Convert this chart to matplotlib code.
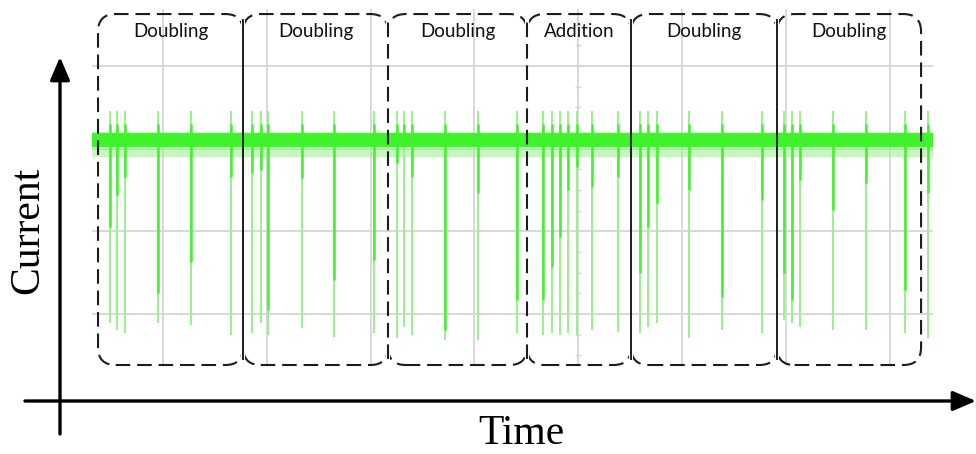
import numpy as np
import matplotlib.pyplot as plt
from matplotlib.patches import FancyBboxPatch, Rectangle

# --- data (scope divisions: time on x, current on y) -------------------------
# spike instants, grouped by the operation window
SPIKE_T = [0.489, 0.560, 0.637, 0.952, 1.273, 1.652,
           1.862, 1.944, 2.014, 2.336, 2.650, 3.036,
           3.251, 3.322, 3.402, 3.717, 4.038, 4.413,
           4.664, 4.745, 4.825, 4.905, 4.986, 5.130, 5.381,
           5.595, 5.675, 5.756, 6.072, 6.388, 6.768,
           6.985, 7.063, 7.137, 7.458, 7.770, 8.148, 8.373]
# bright (dense) part of each downward spike
SPIKE_CORE = [1.05, 1.44, 1.66, 0.25, 0.63, 1.66,
              1.70, 1.74, 0.05, 1.64, 0.41, 0.65,
              1.83, 2.02, 1.66, -0.19, 1.46, 0.17,
              0.17, 0.57, 0.93, 1.50, 1.78, 1.54, 1.66,
              0.50, 1.05, 1.34, 1.50, 0.21, 1.38,
              0.50, 0.17, 1.62, 1.26, 1.58, 0.29, 1.46]
# faint tail, deepest point of each spike
SPIKE_TAIL = [-0.11, -0.19, -0.23, -0.11, -0.13, -0.25,
              -0.23, -0.11, -0.25, -0.17, -0.28, -0.23,
              -0.29, -0.16, -0.25, -0.31, -0.31, -0.23,
              -0.25, -0.23, -0.25, -0.23, -0.25, -0.19, -0.22,
              -0.23, -0.16, -0.11, -0.29, -0.19, -0.23,
              -0.07, -0.11, -0.16, -0.19, -0.19, -0.23, -0.29]
SPIKE_TOP = 2.45
BASELINE = 2.10

# operation windows drawn as dashed boxes
SEG_EDGES = [0.374, 1.771, 3.168, 4.507, 5.509, 6.915, 8.303]
SEG_LABELS = ["Doubling", "Doubling", "Doubling", "Addition", "Doubling", "Doubling"]
SEG_SOLID = [True, False, False, True, True]  # inner borders drawn solid

BRIGHT = "#3ff22c"
FAINT = "#98f28c"
GRID = "#d6d6d6"
INK = "#1c1c1c"
DASH = (0, (7, 3.3))

W, H = 976, 454
fig = plt.figure(figsize=(W / 100, H / 100), dpi=100)
ax = fig.add_axes([92 / W, 88 / H, 841 / W, 357 / H])
ax.set_xlim(0.316, 8.418)
ax.set_ylim(-0.629, 3.688)
ax.axis("off")

# scope graticule
for t in range(1, 9):
    ax.axvline(t, color=GRID, lw=1.3, zorder=0)
for v in range(0, 4):
    ax.axhline(v, color=GRID, lw=1.3, zorder=0)
ticks_v = np.arange(-0.5, 3.75, 0.25)
ax.plot(np.full(len(ticks_v), 5.0), ticks_v, ls="none", marker="_",
        ms=5, mew=1.0, color=GRID, zorder=0)

# trace
ax.vlines(SPIKE_T, SPIKE_TAIL, SPIKE_TOP, color=FAINT, lw=1.4, zorder=2)
ax.fill_between([0.316, 8.418], BASELINE - 0.2, BASELINE + 0.1, color=FAINT,
                alpha=0.55, lw=0, zorder=2)
ax.axhline(BASELINE, color=BRIGHT, lw=10, zorder=3)
ax.vlines(SPIKE_T, SPIKE_CORE, BASELINE + 0.2, color=BRIGHT, lw=1.8, zorder=3)

# operation windows: rounded boxes, shared borders drawn once
top, bottom = 3.627, -0.617
rx, ry = 0.17, 0.17 * 1.26
gap = 0.02
n = len(SEG_LABELS)
for i, label in enumerate(SEG_LABELS):
    t0, t1 = SEG_EDGES[i], SEG_EDGES[i + 1]
    box = FancyBboxPatch(
        (t0, bottom), t1 - t0, top - bottom,
        boxstyle=f"round,pad=0,rounding_size={rx}", mutation_aspect=1.26,
        fill=False, ec=INK, lw=1.5, ls=DASH, zorder=5)
    ax.add_patch(box)
    c0 = t0 + gap if i > 0 else t0 - 0.1
    c1 = t1 - gap if i < n - 1 else t1 + 0.1
    clip = Rectangle((c0, bottom - 0.1), c1 - c0, top - bottom + 0.2,
                     transform=ax.transData, visible=False)
    ax.add_patch(clip)
    box.set_clip_path(clip)
    ax.text((t0 + t1) / 2, 3.41, label, ha="center", va="center",
            fontsize=13.5, family="Lato", color="#111111", zorder=6)
for edge, solid in zip(SEG_EDGES[1:-1], SEG_SOLID):
    ax.plot([edge, edge], [bottom + ry * 0.35, top - ry * 0.35], color=INK,
            lw=1.4 if solid else 1.5, ls="-" if solid else DASH, zorder=5)

# hand-drawn style axes
arrow = dict(arrowstyle="-|>,head_length=0.7,head_width=0.3", lw=2.4,
             color="black", mutation_scale=20, shrinkA=0, shrinkB=0)
ax.annotate("", xy=(60, H - 57), xytext=(60, H - 434), xycoords="figure pixels",
            textcoords="figure pixels", arrowprops=arrow, annotation_clip=False)
ax.annotate("", xy=(976, H - 401), xytext=(25, H - 401), xycoords="figure pixels",
            textcoords="figure pixels", arrowprops=arrow, annotation_clip=False)
fig.text(28 / W, 1 - 230 / H, "Current", rotation=90, ha="center", va="center",
         fontsize=30, family="Liberation Serif")
fig.text(521 / W, 1 - 434 / H, "Time", ha="center", va="center",
         fontsize=30, family="Liberation Serif")

fig.savefig("out.png", dpi=100)
